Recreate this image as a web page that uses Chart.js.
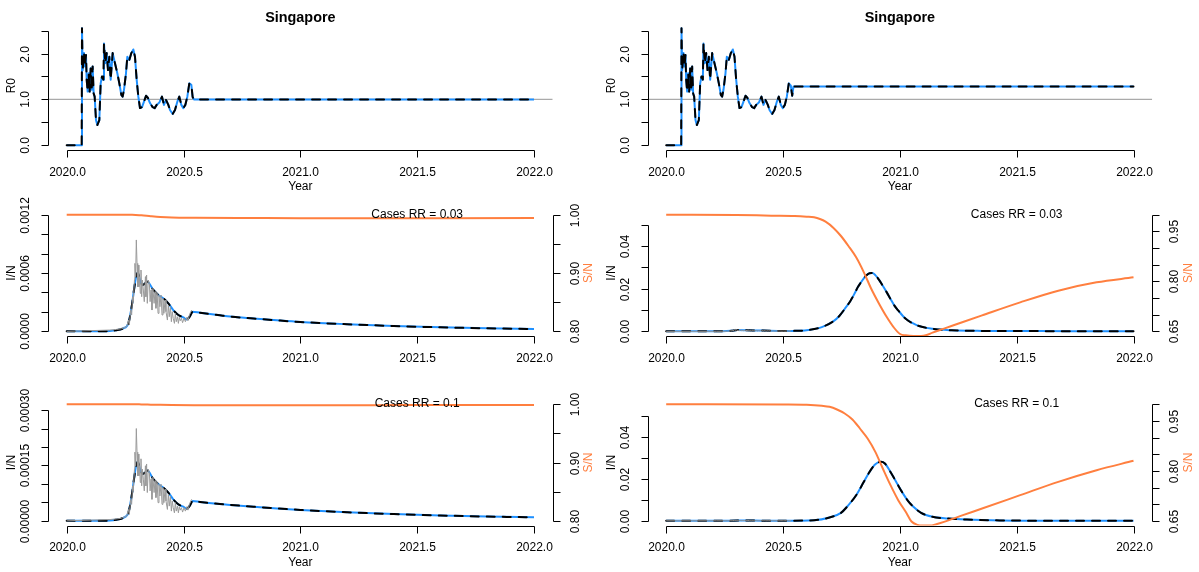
<!DOCTYPE html>
<html>
<head>
<meta charset="utf-8">
<title>Singapore R0 and I/N, S/N</title>
<script src="https://cdn.jsdelivr.net/npm/chart.js@4.4.1/dist/chart.umd.min.js"></script>
<style>
  html, body { margin: 0; padding: 0; background: #ffffff; }
  #board { position: relative; width: 1199px; height: 572px; overflow: hidden; background: #ffffff; }
  #board canvas { position: absolute; left: 0; top: 0; }
</style>
</head>
<body>
<div id="board"></div>
<script>
// ---------------------------------------------------------------
// Axis limits and ticks
// ---------------------------------------------------------------
const X_LIM = [2020, 2022];
const X_TICKS = [2020, 2020.5, 2021, 2021.5, 2022];
const X_TICK_LABELS = ['2020.0', '2020.5', '2021.0', '2021.5', '2022.0'];

const R0_LIM = [0, 2.6];
const R0_TICKS = [0, 0.5, 1, 1.5, 2, 2.5];
const R0_TICK_LABELS = ['0.0', '', '1.0', '', '2.0', ''];
const R0_REF = 1;

const IN03L_LIM = [0, 0.0012];
const IN03L_TICKS = [0, 0.0002, 0.0004, 0.0006, 0.0008, 0.0010, 0.0012];
const IN03L_TICK_LABELS = ['0.0000', '', '', '0.0006', '', '', '0.0012'];

const IN10L_LIM = [0, 0.000316];
const IN10L_TICKS = [0, 0.00005, 0.0001, 0.00015, 0.0002, 0.00025, 0.0003];
const IN10L_TICK_LABELS = ['0.00000', '', '', '0.00015', '', '', '0.00030'];

const IN03R_LIM = [0, 0.0548];
const IN10R_LIM = [0, 0.0556];
const INR_TICKS = [0, 0.01, 0.02, 0.03, 0.04, 0.05];
const INR_TICK_LABELS = ['0.00', '', '0.02', '', '0.04', ''];

const SL_LIM = [0.8, 1.0];
const SL_TICKS = [0.80, 0.85, 0.90, 0.95, 1.00];
const SL_TICK_LABELS = ['0.80', '', '0.90', '', '1.00'];

const SR_LIM = [0.65, 1.0];
const SR_TICKS = [0.65, 0.70, 0.75, 0.80, 0.85, 0.90, 0.95, 1.00];
const SR_TICK_LABELS = ['0.65', '', '', '0.80', '', '', '0.95', ''];

const NOTE_X = 2021.5;

// ---------------------------------------------------------------
// Reproduction number R0 (fitted, then projected constant)
// ---------------------------------------------------------------
const R0_YEARS = [2020.000, 2020.064, 2020.0655, 2020.0683, 2020.0740, 2020.0783, 2020.0826, 2020.0855,
  2020.0897, 2020.0940, 2020.0983, 2020.1026, 2020.1069, 2020.1111, 2020.1154, 2020.1197, 2020.1254,
  2020.1311, 2020.1397, 2020.1454, 2020.1511, 2020.1568, 2020.1596, 2020.1653, 2020.1711, 2020.1768,
  2020.1825, 2020.1882, 2020.1967, 2020.2067, 2020.2167, 2020.2253, 2020.2338, 2020.2395, 2020.2452,
  2020.2538, 2020.2595, 2020.2681, 2020.2766, 2020.2852, 2020.2923, 2020.2995, 2020.3066, 2020.3137,
  2020.3223, 2020.3308, 2020.3394, 2020.3480, 2020.3565, 2020.3679, 2020.3765, 2020.3851, 2020.3965,
  2020.4079, 2020.4164, 2020.4250, 2020.4350, 2020.4421, 2020.4535, 2020.4635, 2020.4735, 2020.4820,
  2020.4906, 2020.4992, 2020.5077, 2020.5163, 2020.5248, 2020.5334, 2020.5391, 2020.5448, 2022.000];
const R0_HOLD = [0, 0, 2.55, 1.64, 2.01, 1.72, 1.97, 1.43, 1.17, 1.57, 1.17, 1.68, 1.21, 1.72, 1.13, 1.06,
  0.55, 0.44, 0.55, 1.35, 1.50, 1.43, 2.22, 1.79, 2.01, 1.64, 1.93, 1.43, 2.01, 1.79, 1.57, 1.35, 1.10,
  1.06, 1.21, 1.57, 1.93, 1.86, 2.01, 2.09, 1.93, 1.43, 1.06, 0.81, 0.83, 0.95, 1.08, 1.03, 0.92, 0.83,
  0.81, 0.88, 0.93, 1.06, 0.88, 0.99, 0.88, 0.77, 0.68, 0.77, 0.95, 1.06, 0.88, 0.81, 0.88, 1.06, 1.35,
  1.32, 1.05, 1.00, 1.00];
const R0_RELAX = [0, 0, 2.55, 1.64, 2.01, 1.72, 1.97, 1.43, 1.17, 1.57, 1.17, 1.68, 1.21, 1.72, 1.13, 1.06,
  0.55, 0.44, 0.55, 1.35, 1.50, 1.43, 2.22, 1.79, 2.01, 1.64, 1.93, 1.43, 2.01, 1.79, 1.57, 1.35, 1.10,
  1.06, 1.21, 1.57, 1.93, 1.86, 2.01, 2.09, 1.93, 1.43, 1.06, 0.81, 0.83, 0.95, 1.08, 1.03, 0.92, 0.83,
  0.81, 0.88, 0.93, 1.06, 0.88, 0.99, 0.88, 0.77, 0.68, 0.77, 0.95, 1.06, 0.88, 0.81, 0.88, 1.06, 1.35,
  1.30, 1.08, 1.28, 1.28];

// ---------------------------------------------------------------
// Observed cases as a share of the population (I/N)
// ---------------------------------------------------------------
const OBS_YEARS = [2020.000, 2020.185, 2020.214, 2020.235, 2020.257, 2020.264, 2020.268, 2020.274, 2020.278,
  2020.282, 2020.285, 2020.290, 2020.292, 2020.295, 2020.298, 2020.301, 2020.304, 2020.307, 2020.309,
  2020.312, 2020.315, 2020.318, 2020.321, 2020.324, 2020.328, 2020.332, 2020.337, 2020.339, 2020.342,
  2020.345, 2020.349, 2020.354, 2020.357, 2020.361, 2020.365, 2020.369, 2020.374, 2020.378, 2020.382,
  2020.387, 2020.391, 2020.395, 2020.399, 2020.404, 2020.408, 2020.412, 2020.416, 2020.421, 2020.425,
  2020.431, 2020.435, 2020.439, 2020.444, 2020.448, 2020.452, 2020.456, 2020.461, 2020.465, 2020.469,
  2020.474, 2020.478, 2020.482, 2020.486, 2020.491, 2020.496, 2020.502, 2020.508, 2020.514, 2020.519,
  2020.525, 2020.531, 2020.535];
const OBS_RR03 = [0, 0.13e-4, 0.20e-4, 0.27e-4, 0.48e-4, 1.16e-4, 0.65e-4, 2.19e-4, 1.68e-4, 3.56e-4,
  3.05e-4, 5.28e-4, 6.99e-4, 5.62e-4, 9.40e-4, 6.99e-4, 4.59e-4, 6.82e-4, 4.59e-4, 5.62e-4, 3.91e-4,
  6.31e-4, 3.56e-4, 5.28e-4, 4.25e-4, 3.05e-4, 5.62e-4, 3.56e-4, 5.79e-4, 2.88e-4, 5.28e-4, 4.94e-4,
  3.05e-4, 4.25e-4, 2.19e-4, 4.42e-4, 2.88e-4, 4.08e-4, 2.37e-4, 3.91e-4, 1.85e-4, 3.73e-4, 2.53e-4,
  3.73e-4, 1.68e-4, 3.39e-4, 1.85e-4, 3.22e-4, 2.02e-4, 1.16e-4, 2.71e-4, 1.50e-4, 2.53e-4, 0.99e-4,
  2.02e-4, 1.34e-4, 0.82e-4, 1.85e-4, 0.99e-4, 1.50e-4, 0.82e-4, 1.44e-4, 1.09e-4, 1.34e-4, 0.89e-4,
  1.34e-4, 0.99e-4, 1.44e-4, 1.09e-4, 1.68e-4, 2.02e-4, 2.19e-4];
const OBS_RR10 = [0, 0.35e-5, 0.53e-5, 0.72e-5, 1.28e-5, 3.09e-5, 1.73e-5, 5.83e-5, 4.47e-5, 9.47e-5,
  8.11e-5, 14.0e-5, 18.6e-5, 14.9e-5, 25.0e-5, 18.6e-5, 12.2e-5, 18.1e-5, 12.2e-5, 14.9e-5, 10.4e-5,
  16.8e-5, 9.47e-5, 14.0e-5, 11.3e-5, 8.11e-5, 14.9e-5, 9.47e-5, 15.4e-5, 7.66e-5, 14.0e-5, 13.1e-5,
  8.11e-5, 11.3e-5, 5.83e-5, 11.8e-5, 7.66e-5, 10.9e-5, 6.30e-5, 10.4e-5, 4.92e-5, 9.92e-5, 6.73e-5,
  9.92e-5, 4.47e-5, 9.02e-5, 4.92e-5, 8.57e-5, 5.37e-5, 3.09e-5, 7.21e-5, 3.99e-5, 6.73e-5, 2.63e-5,
  5.37e-5, 3.56e-5, 2.18e-5, 4.92e-5, 2.63e-5, 3.99e-5, 2.18e-5, 3.83e-5, 2.90e-5, 3.56e-5, 2.37e-5,
  3.56e-5, 2.63e-5, 3.83e-5, 2.90e-5, 4.47e-5, 5.37e-5, 5.83e-5];

// ---------------------------------------------------------------
// Model I/N with R0 held at 1 (left column)
// ---------------------------------------------------------------
const FIT_YEARS = [2020.000, 2020.150, 2020.185, 2020.210, 2020.242, 2020.264, 2020.278, 2020.288, 2020.297,
  2020.304, 2020.314, 2020.325, 2020.336, 2020.345, 2020.371, 2020.392, 2020.413, 2020.435, 2020.456,
  2020.478, 2020.499, 2020.514, 2020.528, 2020.539, 2020.571, 2020.656, 2020.700, 2020.800, 2020.900,
  2021.000, 2021.200, 2021.400, 2021.600, 2021.800, 2022.000];
const FIT_RR03 = [0, 0, 0.03e-4, 0.10e-4, 0.31e-4, 0.82e-4, 2.53e-4, 4.25e-4, 5.62e-4, 6.03e-4, 5.28e-4,
  4.76e-4, 4.94e-4, 5.10e-4, 4.25e-4, 3.74e-4, 3.40e-4, 2.88e-4, 2.19e-4, 1.68e-4, 1.44e-4, 1.23e-4,
  1.57e-4, 2.02e-4, 1.91e-4, 1.65e-4, 1.52e-4, 1.32e-4, 1.13e-4, 0.96e-4, 0.73e-4, 0.55e-4, 0.41e-4,
  0.31e-4, 0.24e-4];
const FIT_RR10 = [0, 0, 0.08e-5, 0.27e-5, 0.82e-5, 2.18e-5, 6.73e-5, 11.3e-5, 14.9e-5, 16.0e-5, 14.0e-5,
  12.7e-5, 13.1e-5, 13.6e-5, 11.3e-5, 9.95e-5, 9.04e-5, 7.66e-5, 5.83e-5, 4.47e-5, 3.83e-5, 3.27e-5,
  4.18e-5, 5.37e-5, 5.10e-5, 4.55e-5, 4.32e-5, 3.82e-5, 3.36e-5, 2.95e-5, 2.32e-5, 1.82e-5, 1.44e-5,
  1.16e-5, 0.95e-5];

// Susceptible share S/N, left column
const SL_YEARS = [2020.00, 2020.28, 2020.32, 2020.36, 2020.40, 2020.45, 2020.55, 2020.80, 2021.00, 2021.30,
  2021.60, 2022.00];
const SL_RR03 = [1.0, 0.9998, 0.9988, 0.9974, 0.9962, 0.9953, 0.9948, 0.9942, 0.9938, 0.9937, 0.9940, 0.9944];
const SL_RR10 = [1.0, 0.9999, 0.9996, 0.9992, 0.9988, 0.9985, 0.9983, 0.9982, 0.9982, 0.9983, 0.9985, 0.9986];

// ---------------------------------------------------------------
// Model with R0 relaxed to 1.28 (right column)
// ---------------------------------------------------------------
const WAVE03_YEARS = [2020.000, 2020.150, 2020.242, 2020.278, 2020.304, 2020.345, 2020.413, 2020.478, 2020.503,
  2020.539, 2020.601, 2020.666, 2020.715, 2020.740, 2020.764, 2020.789, 2020.805, 2020.821, 2020.838,
  2020.854, 2020.870, 2020.882, 2020.895, 2020.911, 2020.927, 2020.944, 2020.960, 2020.976, 2020.993,
  2021.025, 2021.074, 2021.140, 2021.221, 2021.352, 2021.600, 2022.000];
const WAVE03 = [0, 0, 0.00003, 0.00025, 0.0006, 0.0005, 0.00034, 0.00017, 0.00015, 0.0002, 0.0005, 0.0020,
  0.0047, 0.0071, 0.0105, 0.0144, 0.0175, 0.0209, 0.0237, 0.0260, 0.0273, 0.0274, 0.0264, 0.0242, 0.0214,
  0.0183, 0.0152, 0.0122, 0.0098, 0.0059, 0.0028, 0.0012, 0.0005, 0.0002, 0.0001, 0.00005];

const WAVE10_YEARS = [2020.000, 2020.242, 2020.304, 2020.413, 2020.503, 2020.633, 2020.699, 2020.748, 2020.780,
  2020.813, 2020.846, 2020.870, 2020.895, 2020.919, 2020.936, 2020.960, 2020.984, 2021.009, 2021.033,
  2021.058, 2021.091, 2021.140, 2021.205, 2021.287, 2021.433, 2021.678, 2022.000];
const WAVE10 = [0, 0.00001, 0.00016, 0.00009, 0.00005, 0.0003, 0.0016, 0.0038, 0.0075, 0.0122, 0.0186, 0.0233,
  0.0270, 0.0281, 0.0273, 0.0233, 0.0186, 0.0138, 0.0098, 0.0067, 0.0038, 0.0019, 0.0011, 0.0006, 0.0002,
  0.00005, 0.00002];

const SR03_YEARS = [2020.000, 2020.300, 2020.450, 2020.550, 2020.601, 2020.633, 2020.658, 2020.682, 2020.715,
  2020.748, 2020.780, 2020.813, 2020.846, 2020.878, 2020.911, 2020.944, 2020.976, 2021.001, 2021.025,
  2021.058, 2021.091, 2021.115, 2021.140, 2021.189, 2021.270, 2021.352, 2021.515, 2021.678, 2021.842,
  2022.000];
const SR03 = [1.000, 0.999, 0.997, 0.996, 0.994, 0.992, 0.987, 0.979, 0.961, 0.936, 0.906, 0.872, 0.827, 0.777,
  0.733, 0.693, 0.660, 0.642, 0.638, 0.636, 0.636, 0.639, 0.646, 0.658, 0.678, 0.698, 0.737, 0.772, 0.797,
  0.812];

const SR10_YEARS = [2020.000, 2020.500, 2020.601, 2020.666, 2020.699, 2020.731, 2020.764, 2020.797, 2020.829,
  2020.862, 2020.895, 2020.927, 2020.960, 2020.993, 2021.025, 2021.050, 2021.075, 2021.100, 2021.130,
  2021.156, 2021.189, 2021.270, 2021.352, 2021.515, 2021.678, 2021.842, 2022.000];
const SR10 = [1.000, 0.999, 0.998, 0.995, 0.992, 0.984, 0.972, 0.954, 0.927, 0.897, 0.857, 0.807, 0.757, 0.712,
  0.677, 0.648, 0.638, 0.636, 0.636, 0.640, 0.647, 0.667, 0.687, 0.727, 0.767, 0.802, 0.830];

// ---------------------------------------------------------------
// Styling
// ---------------------------------------------------------------
const W = 1199, H = 572;
const FONT = '"Liberation Sans", Arial, Helvetica, sans-serif';
const TICK_FONT = '12px ' + FONT;
const TITLE_FONT = 'bold 14.4px ' + FONT;
const INK = '#000000';
const BLUE = '#1E90FF';
const ORANGE = '#FF7F3F';
const OBS_GREY = '#9a9a9a';
const REF_GREY = '#aaaaaa';
const TICK_LEN = 7;

// Plot regions of the 3 x 2 grid
const COLS = [{ left: 48, right: 552.7 }, { left: 647.5, right: 1152.2 }];
const ROWS = [{ top: 21.3, bottom: 150 }, { top: 210, bottom: 336 }, { top: 399.5, bottom: 525.5 }];

// 4% padding of the data range, as base graphics does
function padRange(lim) {
  const d = (lim[1] - lim[0]) * 0.04;
  return [lim[0] - d, lim[1] + d];
}
const X_USR = padRange(X_LIM);

function pts(xs, ys) { return xs.map((x, i) => ({ x: x, y: ys[i] })); }

function line(xs, ys, extra) {
  return Object.assign({
    data: pts(xs, ys), pointRadius: 0, pointHoverRadius: 0, fill: false, tension: 0,
    borderJoinStyle: 'round', borderCapStyle: 'butt', yAxisID: 'y'
  }, extra);
}

// Model curve: blue solid under a black dashed stroke
function model(xs, ys, smooth) {
  const shape = smooth ? { cubicInterpolationMode: 'monotone' } : {};
  return [
    line(xs, ys, Object.assign({ borderColor: BLUE, borderWidth: 2, order: 3 }, shape)),
    line(xs, ys, Object.assign({ borderColor: INK, borderWidth: 2, borderDash: [8, 8],
      borderCapStyle: 'round', order: 2 }, shape))
  ];
}
function observed(xs, ys) {
  return line(xs, ys, { borderColor: OBS_GREY, borderWidth: 1, order: 1 });
}
function susceptible(xs, ys) {
  return line(xs, ys, { borderColor: ORANGE, borderWidth: 2, order: 0, yAxisID: 'y2',
    cubicInterpolationMode: 'monotone' });
}
function refLine(v) {
  return line([X_USR[0], X_USR[1]], [v, v], { borderColor: REF_GREY, borderWidth: 1.3, order: 4 });
}

// Base-graphics style axes: line only between outer ticks, outward ticks, rotated y labels
const rAxes = {
  id: 'rAxes',
  afterDatasetsDraw(chart, args, o) {
    const ctx = chart.ctx, a = chart.chartArea;
    const xs = chart.scales.x;
    const snap = v => Math.round(v) + 0.5;
    const seg = (x1, y1, x2, y2) => { ctx.beginPath(); ctx.moveTo(x1, y1); ctx.lineTo(x2, y2); ctx.stroke(); };
    const vtext = (t, x, y) => { ctx.save(); ctx.translate(x, y); ctx.rotate(-Math.PI / 2); ctx.fillText(t, 0, 0); ctx.restore(); };
    ctx.save();
    ctx.lineWidth = 1;
    ctx.strokeStyle = INK;
    ctx.fillStyle = INK;
    ctx.font = TICK_FONT;
    ctx.textAlign = 'center';
    ctx.textBaseline = 'middle';

    // bottom axis
    const yb = snap(a.bottom);
    const px = X_TICKS.map(v => snap(xs.getPixelForValue(v)));
    seg(px[0], yb, px[px.length - 1], yb);
    px.forEach((p, i) => {
      seg(p, yb, p, yb + TICK_LEN);
      ctx.fillText(X_TICK_LABELS[i], p, a.bottom + 22.5);
    });
    if (o.xTitle) {
      const cx = (a.left + a.right) / 2, cy = a.bottom + 37;
      if (o.xTitleClip) {
        ctx.save();
        ctx.beginPath();
        ctx.rect(cx - 30, o.xTitleClip[0], 60, o.xTitleClip[1] - o.xTitleClip[0]);
        ctx.clip();
        ctx.fillStyle = '#c8c8c8';
        ctx.fillText(o.xTitle, cx, cy);
        ctx.restore();
      } else {
        ctx.fillText(o.xTitle, cx, cy);
      }
    }

    // left axis
    const ys = chart.scales.y, xl = snap(a.left);
    const lp = o.left.ticks.map(v => snap(ys.getPixelForValue(v)));
    seg(xl, lp[0], xl, lp[lp.length - 1]);
    lp.forEach((p, i) => {
      seg(xl, p, xl - TICK_LEN, p);
      if (o.left.labels[i]) vtext(o.left.labels[i], a.left - 22, p);
    });
    vtext(o.left.title, a.left - 36, (a.top + a.bottom) / 2);

    // right axis
    if (o.right) {
      const yr = chart.scales.y2, xr = snap(a.right);
      const rp = o.right.ticks.map(v => snap(yr.getPixelForValue(v)));
      seg(xr, rp[0], xr, rp[rp.length - 1]);
      rp.forEach((p, i) => {
        seg(xr, p, xr + TICK_LEN, p);
        if (o.right.labels[i]) vtext(o.right.labels[i], a.right + 22.5, p);
      });
      ctx.fillStyle = ORANGE;
      vtext(o.right.title, a.right + 36, (a.top + a.bottom) / 2);
      ctx.fillStyle = INK;
    }

    if (o.title) {
      ctx.font = TITLE_FONT;
      ctx.fillText(o.title, (a.left + a.right) / 2, 18);
      ctx.font = TICK_FONT;
    }
    if (o.note) {
      ctx.fillText(o.note.text, xs.getPixelForValue(o.note.x), ys.getPixelForValue(o.note.y));
    }
    ctx.restore();
  }
};

function panel(col, row, cfg) {
  const board = document.getElementById('board');
  const cv = document.createElement('canvas');
  cv.width = W; cv.height = H;
  cv.style.width = W + 'px'; cv.style.height = H + 'px';
  board.appendChild(cv);
  const c = COLS[col], r = ROWS[row];
  const scales = {
    x: { type: 'linear', display: false, min: X_USR[0], max: X_USR[1] },
    y: { type: 'linear', display: false, min: padRange(cfg.left.lim)[0], max: padRange(cfg.left.lim)[1] }
  };
  if (cfg.right) {
    scales.y2 = { type: 'linear', display: false, position: 'right',
      min: padRange(cfg.right.lim)[0], max: padRange(cfg.right.lim)[1] };
  }
  return new Chart(cv.getContext('2d'), {
    type: 'line',
    data: { datasets: cfg.datasets },
    options: {
      responsive: false, animation: false, events: [], devicePixelRatio: 1,
      layout: { padding: { left: c.left, right: W - c.right, top: r.top, bottom: H - r.bottom } },
      scales: scales,
      plugins: {
        legend: { display: false }, tooltip: { enabled: false },
        rAxes: {
          title: cfg.title, xTitle: 'Year', xTitleClip: cfg.xTitleClip,
          left: cfg.left, right: cfg.right, note: cfg.note
        }
      }
    },
    plugins: [rAxes]
  });
}

const r0Axis = { lim: R0_LIM, ticks: R0_TICKS, labels: R0_TICK_LABELS, title: 'R0' };
const sLeft = { lim: SL_LIM, ticks: SL_TICKS, labels: SL_TICK_LABELS, title: 'S/N' };
const sRight = { lim: SR_LIM, ticks: SR_TICKS, labels: SR_TICK_LABELS, title: 'S/N' };

// Row 1: R0
panel(0, 0, {
  title: 'Singapore', left: r0Axis,
  datasets: [refLine(R0_REF)].concat(model(R0_YEARS, R0_HOLD, false))
});
panel(1, 0, {
  title: 'Singapore', left: r0Axis,
  datasets: [refLine(R0_REF)].concat(model(R0_YEARS, R0_RELAX, false))
});

// Row 2: cases reporting ratio 0.03
panel(0, 1, {
  left: { lim: IN03L_LIM, ticks: IN03L_TICKS, labels: IN03L_TICK_LABELS, title: 'I/N' }, right: sLeft,
  note: { text: 'Cases RR = 0.03', x: NOTE_X, y: IN03L_LIM[1] }, xTitleClip: [376, 381],
  datasets: model(FIT_YEARS, FIT_RR03, true).concat([observed(OBS_YEARS, OBS_RR03), susceptible(SL_YEARS, SL_RR03)])
});
panel(1, 1, {
  left: { lim: IN03R_LIM, ticks: INR_TICKS, labels: INR_TICK_LABELS, title: 'I/N' }, right: sRight,
  note: { text: 'Cases RR = 0.03', x: NOTE_X, y: IN03R_LIM[1] }, xTitleClip: [376, 381],
  datasets: model(WAVE03_YEARS, WAVE03, true).concat([observed(OBS_YEARS, OBS_RR03), susceptible(SR03_YEARS, SR03)])
});

// Row 3: cases reporting ratio 0.1
panel(0, 2, {
  left: { lim: IN10L_LIM, ticks: IN10L_TICKS, labels: IN10L_TICK_LABELS, title: 'I/N' }, right: sLeft,
  note: { text: 'Cases RR = 0.1', x: NOTE_X, y: IN10L_LIM[1] },
  datasets: model(FIT_YEARS, FIT_RR10, true).concat([observed(OBS_YEARS, OBS_RR10), susceptible(SL_YEARS, SL_RR10)])
});
panel(1, 2, {
  left: { lim: IN10R_LIM, ticks: INR_TICKS, labels: INR_TICK_LABELS, title: 'I/N' }, right: sRight,
  note: { text: 'Cases RR = 0.1', x: NOTE_X, y: IN10R_LIM[1] },
  datasets: model(WAVE10_YEARS, WAVE10, true).concat([observed(OBS_YEARS, OBS_RR10), susceptible(SR10_YEARS, SR10)])
});
</script>
</body>
</html>
